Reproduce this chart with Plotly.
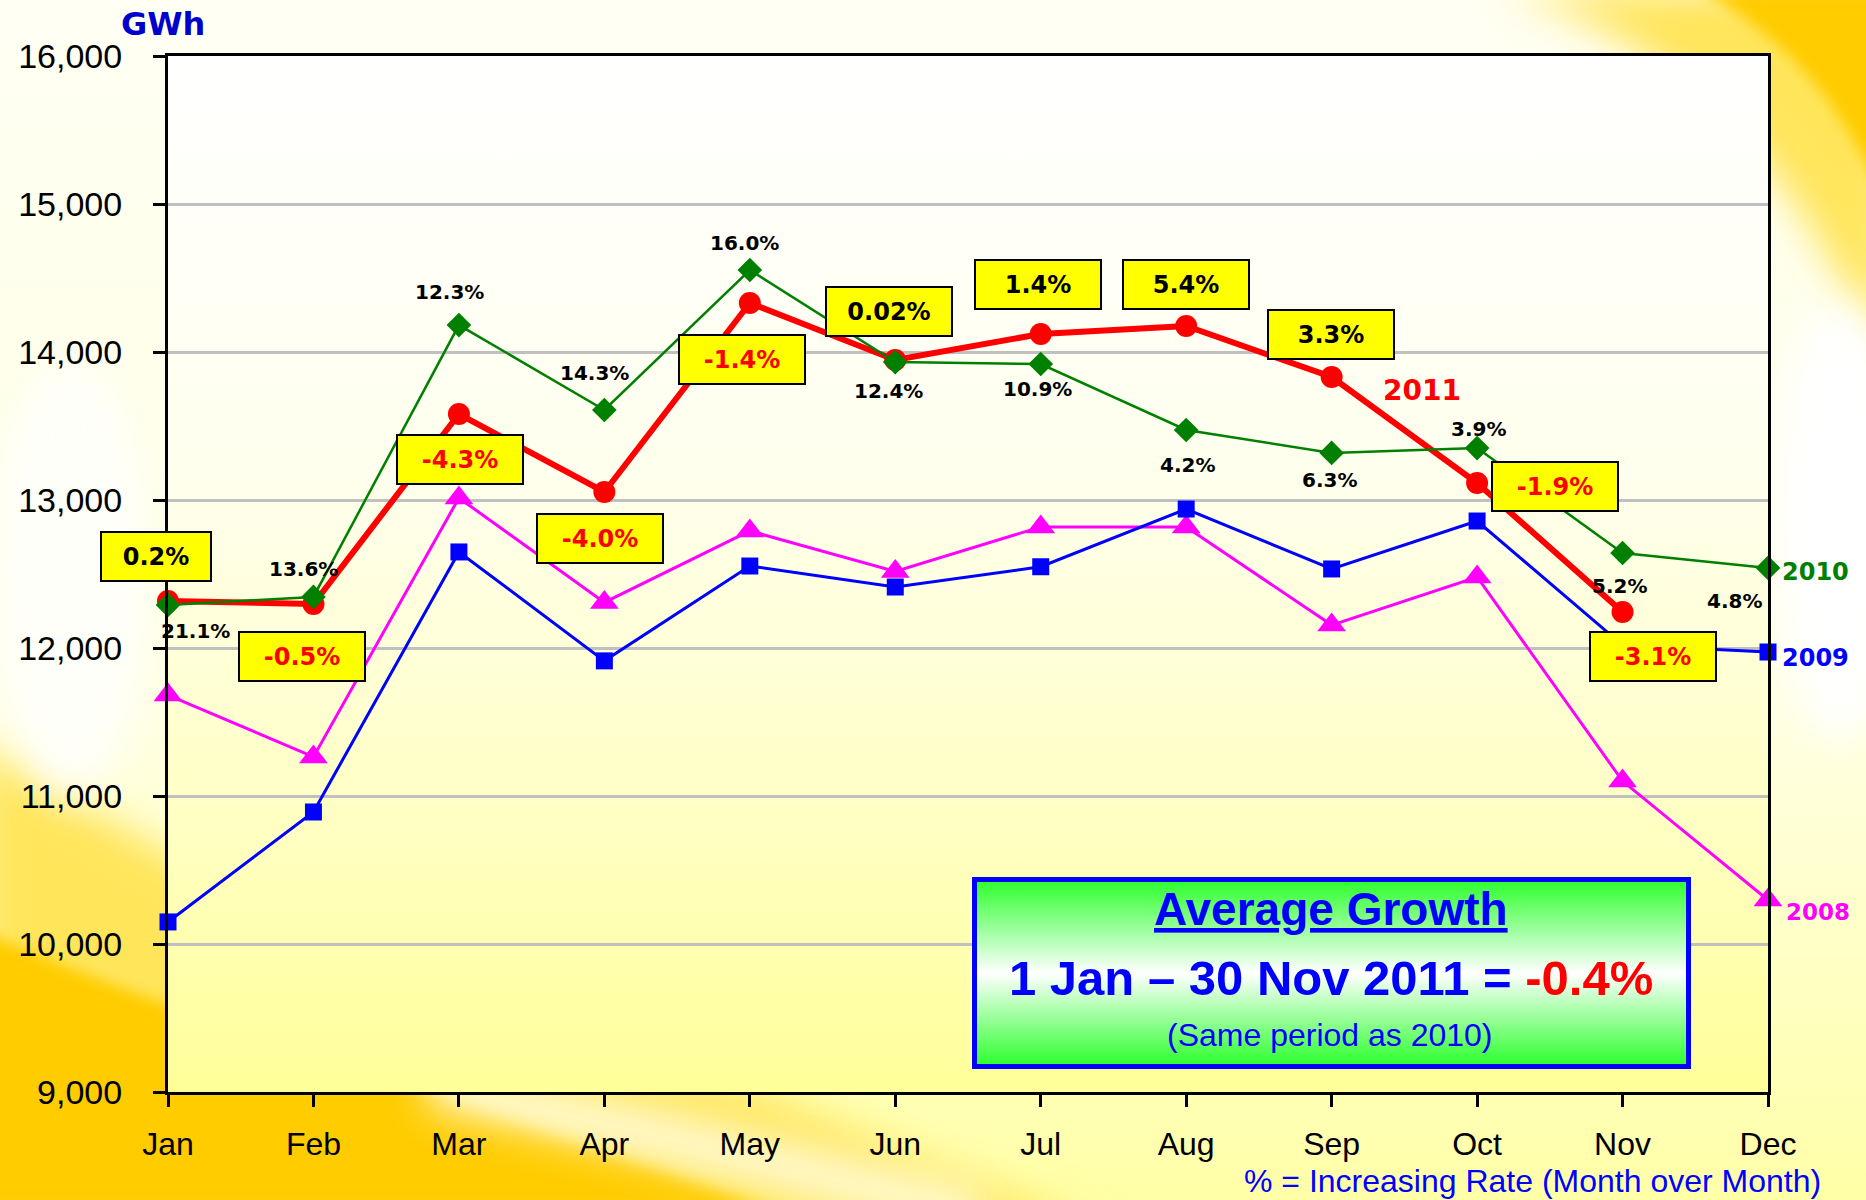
import base64
import plotly.graph_objects as go

# ---------------- data ----------------
months = ["Jan", "Feb", "Mar", "Apr", "May", "Jun", "Jul", "Aug", "Sep", "Oct", "Nov", "Dec"]
gwh_2011 = [12318, 12297, 13581, 13054, 14331, 13946, 14122, 14176, 13831, 13115, 12243]
gwh_2010 = [12291, 12345, 14182, 13608, 14554, 13932, 13919, 13473, 13318, 13351, 12642, 12541]
gwh_2009 = [10149, 10892, 12649, 11913, 12554, 12412, 12549, 12939, 12534, 12858, 12020, 11973]
gwh_2008 = [11682, 11264, 13014, 12308, 12791, 12517, 12818, 12818, 12155, 12480, 11101, 10297]
growth_2011 = ["0.2%", "-0.5%", "-4.3%", "-4.0%", "-1.4%", "0.02%", "1.4%", "5.4%", "3.3%", "-1.9%", "-3.1%"]
growth_2010 = ["21.1%", "13.6%", "12.3%", "14.3%", "16.0%", "12.4%", "10.9%", "4.2%", "6.3%", "3.9%", "5.2%", "4.8%"]
y_ticks = [9000, 10000, 11000, 12000, 13000, 14000, 15000, 16000]
avg_growth = "-0.4%"

# ---------------- layout geometry / label offsets (pixels) ----------------
W, H = 1866, 1200
L, R, T, B = 168, 98, 56, 108
PW, PH = W - L - R, H - T - B

box_offsets = [(-12, -44), (-11, 52), (1, 45), (-4, 46), (-8, 56), (-6, -48),
               (-3, -49), (0, -41), (-1, -43), (78, 4), (30, 44)]
box_widths = [108, 124, 124, 124, 124, 124, 124, 124, 124, 124, 124]
green_offsets = [(27, 26), (-10, -28), (-9, -33), (-10, -37), (-5, -27), (-7, 29),
                 (-3, 25), (1, 35), (-2, 27), (1, -19), (-3, 33), (-34, 33)]


def paper_xy(px, py):
    return (px - L) / PW, (T + PH - py) / PH


# ---------------- background decoration ----------------
bg_svg = f'''<svg xmlns="http://www.w3.org/2000/svg" width="{W}" height="{H}" viewBox="0 0 {W} {H}">
<defs>
<linearGradient id="bg" x1="0" y1="0" x2="0" y2="1"><stop offset="0" stop-color="#FFFFF4"/><stop offset="0.6" stop-color="#FFFFE2"/><stop offset="1" stop-color="#FFFFA8"/></linearGradient>
<linearGradient id="pa" x1="0" y1="0" x2="0" y2="1"><stop offset="0" stop-color="#FFFFFF"/><stop offset="0.4" stop-color="#FFFFEE"/><stop offset="0.75" stop-color="#FFFFC2"/><stop offset="1" stop-color="#FFFF99"/></linearGradient>
<filter id="b1" x="-50%" y="-50%" width="200%" height="200%"><feGaussianBlur stdDeviation="20"/></filter>
<filter id="b2" x="-50%" y="-50%" width="200%" height="200%"><feGaussianBlur stdDeviation="7"/></filter>
</defs>
<rect width="{W}" height="{H}" fill="url(#bg)"/>
<path d="M-20,740 C180,870 420,1000 760,1092 L1100,1230 L-20,1230 Z" fill="#FFE55A" filter="url(#b1)"/>
<path d="M-20,930 C180,1020 420,1085 780,1210 L-20,1210 Z" fill="#FFCC00" filter="url(#b2)"/>
<path d="M430,1085 C600,1120 800,1170 980,1215" stroke="#FFFFF0" stroke-width="46" fill="none" filter="url(#b1)" opacity="0.85"/>
<path d="M1500,-10 C1650,30 1790,140 1890,380 L1890,-10 Z" fill="#FFE55A" filter="url(#b1)"/>
<path d="M1700,-10 C1790,40 1850,110 1890,220 L1890,-10 Z" fill="#FFCC00" filter="url(#b2)"/>
<ellipse cx="1840" cy="520" rx="70" ry="220" fill="#FFFFFF" filter="url(#b1)"/>
<ellipse cx="70" cy="580" rx="80" ry="220" fill="#FFFFFF" opacity="0.8" filter="url(#b1)"/>
<rect x="{L}" y="{T}" width="{PW}" height="{PH}" fill="url(#pa)"/>
</svg>'''

box_px = (972, 877, 1691, 1069)
bw, bh = box_px[2] - box_px[0], box_px[3] - box_px[1]
box_svg = f'''<svg xmlns="http://www.w3.org/2000/svg" width="{bw}" height="{bh}" viewBox="0 0 {bw} {bh}">
<defs><linearGradient id="g" x1="0" y1="0" x2="0" y2="1"><stop offset="0" stop-color="#2BFF2B"/><stop offset="0.5" stop-color="#FFFFFF"/><stop offset="1" stop-color="#2BFF2B"/></linearGradient></defs>
<rect x="2.5" y="2.5" width="{bw-5}" height="{bh-5}" fill="url(#g)" stroke="#0000FF" stroke-width="5"/>
</svg>'''


def svg_uri(s):
    return "data:image/svg+xml;base64," + base64.b64encode(s.encode()).decode()


# ---------------- traces ----------------
fig = go.Figure()
fig.add_trace(go.Scatter(x=months, y=gwh_2008, mode="lines+markers", cliponaxis=False,
                         line=dict(color="#FF00FF", width=3),
                         marker=dict(symbol="triangle-up", size=25, color="#FF00FF")))
fig.add_trace(go.Scatter(x=months, y=gwh_2009, mode="lines+markers", cliponaxis=False,
                         line=dict(color="#0000FF", width=3),
                         marker=dict(symbol="square", size=17, color="#0000FF")))
fig.add_trace(go.Scatter(x=months[:len(gwh_2011)], y=gwh_2011, mode="lines+markers", cliponaxis=False,
                         line=dict(color="#FF0000", width=6),
                         marker=dict(symbol="circle", size=22, color="#FF0000")))
fig.add_trace(go.Scatter(x=months, y=gwh_2010, mode="lines+markers", cliponaxis=False,
                         line=dict(color="#008000", width=2.5),
                         marker=dict(symbol="diamond", size=19, color="#008000")))

ann = []
# 2011 growth boxes
for i, txt in enumerate(growth_2011):
    dx, dy = box_offsets[i]
    ann.append(dict(x=months[i], y=gwh_2011[i], xref="x", yref="y", text=txt, showarrow=False,
                    xshift=dx, yshift=-dy, width=box_widths[i], height=47,
                    bgcolor="#FFFF00", bordercolor="#000000", borderwidth=2, borderpad=0,
                    font=dict(family="DejaVu Sans", size=24, weight="bold",
                              color="#FF0000" if txt.startswith("-") else "#000000")))
# 2010 growth labels
for i, txt in enumerate(growth_2010):
    dx, dy = green_offsets[i]
    ann.append(dict(x=months[i], y=gwh_2010[i], xref="x", yref="y", text=txt, showarrow=False,
                    xshift=dx, yshift=-dy,
                    font=dict(family="DejaVu Sans", size=20, weight="bold", color="#000000")))

# series labels
ann.append(dict(x=months[8], y=gwh_2011[8], xref="x", yref="y", text="2011", showarrow=False,
                xshift=90, yshift=-13,
                font=dict(family="DejaVu Sans", size=28, weight="bold", color="#FF0000")))
ann.append(dict(x=months[11], y=gwh_2010[11], xref="x", yref="y", text="2010", showarrow=False,
                xanchor="left", xshift=12, yshift=-4,
                font=dict(family="DejaVu Sans", size=24, weight="bold", color="#008000")))
ann.append(dict(x=months[11], y=gwh_2009[11], xref="x", yref="y", text="2009", showarrow=False,
                xanchor="left", xshift=12, yshift=-6,
                font=dict(family="DejaVu Sans", size=24, weight="bold", color="#0000FF")))
ann.append(dict(x=months[11], y=gwh_2008[11], xref="x", yref="y", text="2008", showarrow=False,
                xanchor="left", xshift=16, yshift=-12,
                font=dict(family="DejaVu Sans", size=23, weight="bold", color="#FF00FF")))


def paper_text(px, py, text, font):
    x, y = paper_xy(px, py)
    return dict(x=x, y=y, xref="paper", yref="paper", xanchor="center", yanchor="middle",
                text=text, showarrow=False, font=font)


# unit label
ann.append(paper_text(163, 24, "GWh",
                      dict(family="DejaVu Sans", size=32, weight="bold", color="#0000CC")))
# average growth box texts
ann.append(paper_text(1331, 909, "Average Growth",
                      dict(family="Liberation Sans", size=46, weight="bold", color="#0000FF",
                           lineposition="under")))
ann.append(paper_text(1331, 978,
                      "1 Jan \u2013 30 Nov 2011 = <span style='color:#FF0000'>" + avg_growth + "</span>",
                      dict(family="Liberation Sans", size=49, weight="bold", color="#0000FF")))
ann.append(paper_text(1330, 1035, "(Same period as 2010)",
                      dict(family="Liberation Sans", size=32, color="#0000FF")))
# footer
ann.append(paper_text(1532, 1181, "% = Increasing Rate (Month over Month)",
                      dict(family="Liberation Sans", size=32, color="#0000FF")))

bx0, by0 = paper_xy(box_px[0], box_px[1])
images = [
    dict(source=svg_uri(bg_svg), xref="paper", yref="paper", x=-L / PW, y=1 + T / PH,
         sizex=W / PW, sizey=H / PH, xanchor="left", yanchor="top", sizing="stretch", layer="below"),
    dict(source=svg_uri(box_svg), xref="paper", yref="paper", x=bx0, y=by0,
         sizex=bw / PW, sizey=bh / PH, xanchor="left", yanchor="top", sizing="stretch", layer="above"),
]

fig.update_layout(
    width=W, height=H,
    margin=dict(l=L, r=R, t=T, b=B),
    paper_bgcolor="#FFFFE8",
    plot_bgcolor="rgba(0,0,0,0)",
    showlegend=False,
    annotations=ann,
    images=images,
    xaxis=dict(type="category", categoryorder="array", categoryarray=months, range=[0, 11],
               showgrid=False, showline=True, linecolor="#000000", linewidth=3, mirror=True,
               ticks="outside", ticklen=12, tickwidth=2.5, tickcolor="#000000",
               ticklabelstandoff=10,
               tickfont=dict(family="Liberation Sans", size=32, color="#000000"), zeroline=False),
    yaxis=dict(range=[9000, 16000], tickvals=y_ticks, tickformat=",",
               showgrid=True, gridcolor="#C0C0C0", gridwidth=2.5,
               showline=True, linecolor="#000000", linewidth=3, mirror=True,
               ticks="outside", ticklen=12, tickwidth=2.5, tickcolor="#000000",
               ticklabelstandoff=24,
               tickfont=dict(family="Liberation Sans", size=34, color="#000000"), zeroline=False),
)

fig.write_html("out.html", config={"displayModeBar": False},
               post_script="document.body.style.margin='0';document.body.style.overflow='hidden';")
